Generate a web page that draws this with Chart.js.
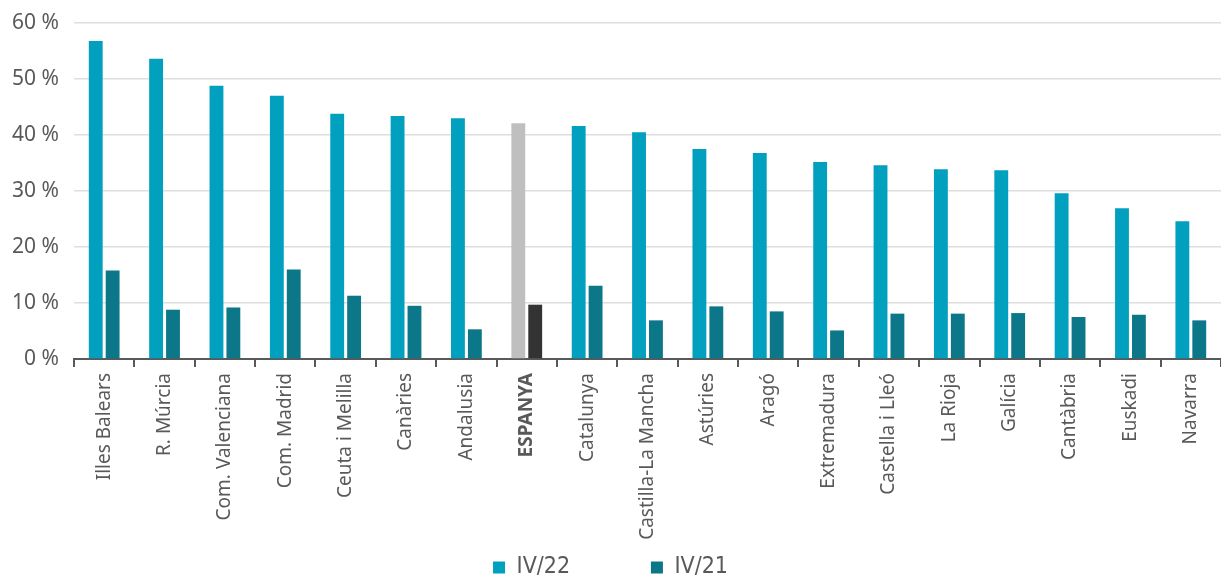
<!DOCTYPE html>
<html lang="ca">
<head>
    <meta charset="UTF-8">
    <title>IV/22 vs IV/21 per comunitat</title>
    <script src="https://cdn.jsdelivr.net/npm/chart.js"></script>
    <style>
        html, body { margin: 0; padding: 0; background: #fff; }
        #wrap { width: 1221px; height: 577px; position: relative; }
    </style>
</head>
<body>
    <div id="wrap"><canvas id="chart"></canvas></div>
    <script>
        const regions = ['Illes Balears', 'R. Múrcia', 'Com. Valenciana', 'Com. Madrid', 'Ceuta i Melilla',
            'Canàries', 'Andalusia', 'ESPANYA', 'Catalunya', 'Castilla-La Mancha', 'Astúries', 'Aragó',
            'Extremadura', 'Castella i Lleó', 'La Rioja', 'Galícia', 'Cantàbria', 'Euskadi', 'Navarra'];
        const iv22 = [56.8, 53.6, 48.8, 47.0, 43.8, 43.4, 43.0, 42.1, 41.6, 40.5, 37.5, 36.8, 35.2, 34.6, 33.9, 33.7, 29.6, 26.9, 24.6];
        const iv21 = [15.8, 8.8, 9.2, 16.0, 11.3, 9.5, 5.3, 9.7, 13.1, 6.9, 9.4, 8.5, 5.1, 8.1, 8.1, 8.2, 7.5, 7.9, 6.9];
        const yTicks = [0, 10, 20, 30, 40, 50, 60];
        const highlight = 'ESPANYA';

        const c22 = regions.map(r => r === highlight ? '#bfbfbf' : '#00a0be');
        const c21 = regions.map(r => r === highlight ? '#333333' : '#0b7788');

        new Chart(document.getElementById('chart'), {
            type: 'bar',
            data: {
                labels: regions,
                datasets: [
                    { label: 'IV/22', data: iv22, backgroundColor: c22, categoryPercentage: 0.56, barPercentage: 0.82 },
                    { label: 'IV/21', data: iv21, backgroundColor: c21, categoryPercentage: 0.56, barPercentage: 0.82 }
                ]
            },
            options: {
                responsive: true,
                maintainAspectRatio: false,
                animation: false,
                layout: { padding: { top: 23, right: 0, left: 0, bottom: -12 } },
                scales: {
                    x: {
                        grid: { drawOnChartArea: false, drawTicks: true, tickLength: 8, color: '#595959', lineWidth: 2 },
                        border: { color: '#595959', width: 2 },
                        ticks: {
                            minRotation: 90, maxRotation: 90, autoSkip: false, padding: 6,
                            color: '#595959',
                            font: ctx => ({ family: 'Noto Sans', size: 19, weight: regions[ctx.index] === highlight ? 'bold' : 'normal' })
                        },
                        afterFit: s => { s.height = 195; }
                    },
                    y: {
                        min: 0, max: 60,
                        afterBuildTicks: s => { s.ticks = yTicks.map(v => ({ value: v })); },
                        grid: { color: '#dedede', lineWidth: 1.5, drawTicks: false },
                        border: { display: false },
                        ticks: {
                            padding: 15, color: '#595959',
                            font: { family: 'Noto Sans', size: 21 },
                            callback: v => v + ' %'
                        },
                        afterFit: s => { s.width = 74; s.paddingTop = 0; s.paddingBottom = 0; }
                    }
                },
                plugins: {
                    legend: {
                        position: 'bottom',
                        labels: {
                            boxWidth: 12, boxHeight: 12, padding: 2,
                            color: '#595959',
                            font: { family: "'DejaVu Sans Condensed', 'Liberation Sans Narrow', Roboto", size: 23 },
                            generateLabels: chart => chart.data.datasets.map((d, i) => ({
                                text: d.label + (i === 0 ? '            ' : ''),
                                fillStyle: d.backgroundColor[0],
                                strokeStyle: d.backgroundColor[0],
                                lineWidth: 0,
                                datasetIndex: i,
                                fontColor: '#595959'
                            }))
                        }
                    },
                    tooltip: { enabled: false }
                }
            }
        });
    </script>
</body>
</html>
